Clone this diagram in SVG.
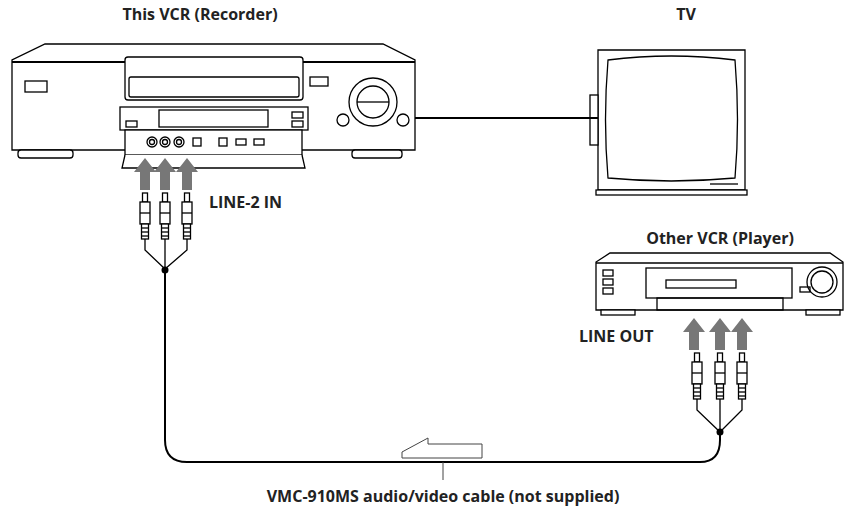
<svg xmlns="http://www.w3.org/2000/svg" width="857" height="518" viewBox="0 0 857 518">
<style>
.l{fill:none;stroke:#000;stroke-width:2}
.t{fill:none;stroke:#000;stroke-width:1.3}
.w{fill:#fff;stroke:#000;stroke-width:1.3}
.txt{font-family:"Open Sans","Liberation Sans",sans-serif;font-weight:bold;font-size:16px;fill:#222}
.ar{fill:#777}
</style>
<defs>
<g id="plug">
<rect x="-2.5" y="0" width="5" height="9" class="w"/>
<rect x="-5" y="9" width="10" height="22" class="w"/>
<line x1="-5" y1="20" x2="5" y2="20" class="t"/>
<rect x="-3.5" y="31" width="7" height="15" class="w"/>
<line x1="-3.5" y1="35" x2="3.5" y2="35" class="t"/><line x1="-3.5" y1="39" x2="3.5" y2="39" class="t"/><line x1="-3.5" y1="43" x2="3.5" y2="43" class="t"/>
</g>
<path id="up" d="M-5,0 V-18 H-11 L0,-32 L11,-18 H5 V0 Z" class="ar"/>
</defs>
<g id="labels">
<text class="txt" x="200" y="20" text-anchor="middle">This VCR (Recorder)</text>
<text class="txt" x="686" y="20" text-anchor="middle">TV</text>
<text class="txt" x="720" y="244" text-anchor="middle">Other VCR (Player)</text>
<text class="txt" x="209" y="208">LINE-2 IN</text>
<text class="txt" x="579" y="342">LINE OUT</text>
<text class="txt" x="443" y="502" text-anchor="middle">VMC-910MS audio/video cable (not supplied)</text>
</g>
<g id="vcr-recorder">
<path d="M45,44 H383 L415,60 V150 H12 V60 Z" class="w" stroke-width="2"/>
<line x1="12" y1="62" x2="415" y2="62" class="l"/>
<rect x="18" y="150" width="55" height="8" rx="3" class="w"/>
<rect x="352" y="150" width="50" height="8" rx="3" class="w"/>
<rect x="125" y="57" width="178" height="43" rx="3" class="w"/>
<rect x="129" y="77" width="170" height="20" rx="2" class="t"/>
<rect x="25" y="81" width="22" height="11" class="w"/>
<rect x="310" y="77" width="18" height="9" class="w"/>
<rect x="120" y="107" width="188" height="23" class="w"/>
<rect x="159" y="110" width="109" height="17" class="t"/>
<rect x="126" y="121" width="11" height="6" class="t"/>
<rect x="292" y="112" width="11" height="6" class="t"/><rect x="292" y="121" width="11" height="6" class="t"/>
<rect x="125" y="130" width="177" height="25" class="w"/>
<path d="M125,155 L122,168 H305 L302,155" class="w"/>
<circle cx="152" cy="142" r="5" class="w"/><circle cx="152" cy="142" r="2.5" class="t"/>
<circle cx="165" cy="142" r="5" class="w"/><circle cx="165" cy="142" r="2.5" class="t"/>
<circle cx="179" cy="142" r="5" class="w"/><circle cx="179" cy="142" r="2.5" class="t"/>
<rect x="193" y="138" width="8" height="8" class="t"/><rect x="219" y="138" width="8" height="8" class="t"/>
<rect x="236" y="139" width="10" height="6" class="t"/><rect x="254" y="139" width="10" height="6" class="t"/>
<circle cx="373" cy="102" r="24" class="w"/><circle cx="373" cy="102" r="16" class="w"/>
<line x1="357" y1="102" x2="389" y2="102" class="t"/>
<circle cx="343" cy="120" r="6" class="w"/><circle cx="403" cy="120" r="6" class="w"/>
</g>
<g id="tv">
<path d="M598,50 H745 V190 H598 Z" class="w" stroke-width="2"/>
<path d="M608,60 Q671,52 735,60 Q740,120 735,178 Q671,184 608,178 Q603,120 608,60 Z" class="w"/>
<rect x="596" y="190" width="151" height="5" class="w"/>
<rect x="590" y="95" width="8" height="50" class="w"/>
<line x1="710" y1="184" x2="738" y2="184" class="t"/>
</g>
<g id="vcr-player">
<path d="M610,253 H830 L843,262 V310 H596 V262 Z" class="w" stroke-width="2"/>
<line x1="596" y1="263" x2="843" y2="263" class="t"/>
<rect x="646" y="268" width="146" height="30" class="w"/>
<rect x="666" y="280" width="70" height="8" class="t"/>
<rect x="657" y="298" width="126" height="12" class="t"/>
<rect x="603" y="270" width="10" height="6" class="t"/><rect x="603" y="279" width="10" height="6" class="t"/><rect x="603" y="288" width="10" height="6" class="t"/>
<circle cx="822" cy="282" r="15" class="w"/><circle cx="822" cy="282" r="11" class="t"/>
<rect x="800" y="287" width="10" height="5" class="t"/>
<rect x="601" y="310" width="34" height="5" class="w"/><rect x="806" y="310" width="34" height="5" class="w"/>
</g>
<g id="connectors">
<line x1="415" y1="118" x2="598" y2="118" class="l"/>
<use href="#up" x="145" y="190"/><use href="#up" x="165" y="190"/><use href="#up" x="187" y="190"/>
<use href="#up" x="694" y="350"/><use href="#up" x="720" y="350"/><use href="#up" x="742" y="350"/>
<use href="#plug" x="145" y="193"/><use href="#plug" x="165" y="193"/><use href="#plug" x="187" y="193"/>
<use href="#plug" x="697" y="353"/><use href="#plug" x="720" y="353"/><use href="#plug" x="742" y="353"/>
<path d="M145,239 V250 L165,269 M187,239 V250 L165,269 M165,239 V269" class="t"/>
<path d="M697,399 V410 L720,432 M742,399 V410 L720,432 M720,399 V432" class="t"/>
<circle cx="165" cy="270" r="3.5"/><circle cx="720" cy="432" r="3.5"/>
<path d="M165,270 V440 Q165,462 187,462 H700 Q720,462 720,440 V432" class="l" stroke-width="2.5"/>
<path d="M402,452 L428,438 V444 H482 V458 H402 Z" fill="#fff" stroke="#444" stroke-width="1"/>
<line x1="443" y1="462" x2="443" y2="480" stroke="#444" stroke-width="1"/>
</g>
</svg>
